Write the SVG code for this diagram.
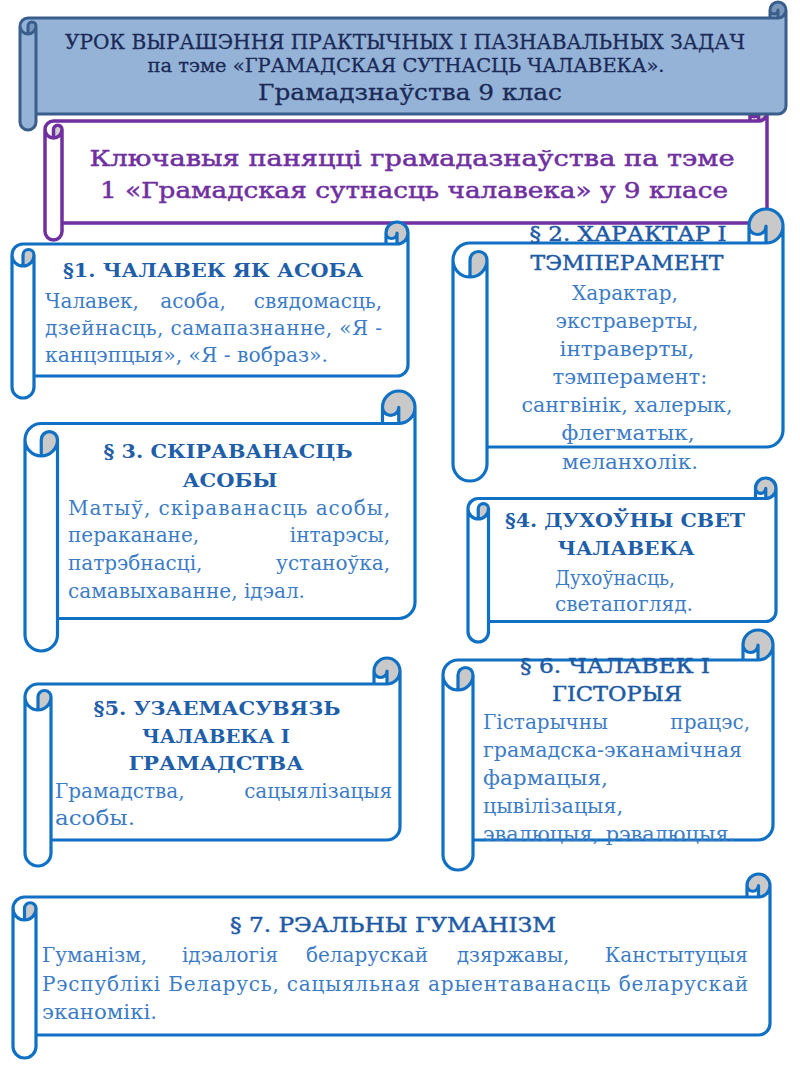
<svg xmlns="http://www.w3.org/2000/svg" width="800" height="1067" viewBox="0 0 800 1067">
<style>
.f{stroke:none}
.hd .f{fill:#95b3d7}
.hd .d{fill:#7b96bb}
.hd .s{fill:none;stroke:#3a5e8c;stroke-width:3;stroke-linejoin:round}
.pu .f{fill:#fff}
.pu .d{fill:#cfcfcf}
.pu .s{fill:none;stroke:#7030a0;stroke-width:3.5;stroke-linejoin:round}
.bl .f{fill:#fff}
.bl .d{fill:#c9c9c9}
.bl .s{fill:none;stroke:#1070c4;stroke-width:3.2;stroke-linejoin:round}
text{font-family:"DejaVu Serif","Liberation Serif",serif}
.ht{fill:#1b2a57;stroke:#1b2a57;stroke-width:0.3;text-anchor:middle}
.pt{fill:#7030a0;stroke:#7030a0;stroke-width:0.5;text-anchor:middle;font-size:23px}
.h{fill:#1f5ea8;font-weight:bold;font-size:19px;text-anchor:middle}
.hr{fill:#1d5aa4;stroke:#1d5aa4;stroke-width:0.45;font-size:20px;text-anchor:middle}
.b{fill:#3c7cc6;font-size:20px}
.c{text-anchor:middle}
.e{text-anchor:end}
</style>

<g id="topic" class="pu">
<g transform="translate(45,104)">
<path class="f" d="M0,25.5 A8.5,8.5 0 0 1 8.5,17 L705,17 L705,8.5 A8.5,8.5 0 0 1 722,8.5 L722,110.5 A8.5,8.5 0 0 1 713.5,119 L17,119 L17,127.5 A8.5,8.5 0 0 1 0,127.5 Z"/>
<path class="d" d="M8.5,34 A8.5,8.5 0 0 0 17,25.5 A4.25,4.25 0 0 0 8.5,25.5 Z M713.5,17 A8.5,8.5 0 1 0 705,8.5 A4.25,4.25 0 0 0 713.5,8.5 Z"/>
<path class="s" d="M0,25.5 A8.5,8.5 0 0 1 8.5,17 L705,17 L705,8.5 A8.5,8.5 0 0 1 722,8.5 L722,110.5 A8.5,8.5 0 0 1 713.5,119 L17,119 L17,127.5 A8.5,8.5 0 0 1 0,127.5 Z M705,17 L713.5,17 A8.5,8.5 0 0 0 722,8.5 M713.5,17 L713.5,8.5 A4.25,4.25 0 0 1 705,8.5 M8.5,34 L8.5,25.5 A4.25,4.25 0 0 1 17,25.5 A8.5,8.5 0 0 1 0,25.5 M17,25.5 L17,119"/>
</g>
<text class="pt" x="412" y="166" textLength="645" lengthAdjust="spacingAndGlyphs">Ключавыя паняцці грамадазнаўства па тэме</text>
<text class="pt" x="414" y="198" textLength="628" lengthAdjust="spacingAndGlyphs">1 «Грамадская сутнасць чалавека» у 9 класе</text>
</g>

<g id="header" class="hd">
<g transform="translate(20,2)">
<path class="f" d="M0,24 A8,8 0 0 1 8,16 L750,16 L750,8 A8,8 0 0 1 766,8 L766,104 A8,8 0 0 1 758,112 L16,112 L16,120 A8,8 0 0 1 0,120 Z"/>
<path class="d" d="M8,32 A8,8 0 0 0 16,24 A4,4 0 0 0 8,24 Z M758,16 A8,8 0 1 0 750,8 A4,4 0 0 0 758,8 Z"/>
<path class="s" d="M0,24 A8,8 0 0 1 8,16 L750,16 L750,8 A8,8 0 0 1 766,8 L766,104 A8,8 0 0 1 758,112 L16,112 L16,120 A8,8 0 0 1 0,120 Z M750,16 L758,16 A8,8 0 0 0 766,8 M758,16 L758,8 A4,4 0 0 1 750,8 M8,32 L8,24 A4,4 0 0 1 16,24 A8,8 0 0 1 0,24 M16,24 L16,112"/>
</g>
<text class="ht" x="405" y="49" font-size="20" textLength="680" lengthAdjust="spacingAndGlyphs">УРОК ВЫРАШЭННЯ ПРАКТЫЧНЫХ І ПАЗНАВАЛЬНЫХ ЗАДАЧ</text>
<text class="ht" x="406" y="72" font-size="18" textLength="517" lengthAdjust="spacingAndGlyphs">па тэме «ГРАМАДСКАЯ СУТНАСЦЬ ЧАЛАВЕКА».</text>
<text class="ht" x="410" y="100" font-size="23" textLength="304" lengthAdjust="spacingAndGlyphs">Грамадзнаўства 9 клас</text>
</g>

<g id="p1" class="bl">
<g transform="translate(12,222)">
<path class="f" d="M0,33 A11,11 0 0 1 11,22 L374,22 L374,11 A11,11 0 0 1 396,11 L396,143 A11,11 0 0 1 385,154 L22,154 L22,165 A11,11 0 0 1 0,165 Z"/>
<path class="d" d="M11,44 A11,11 0 0 0 22,33 A5.5,5.5 0 0 0 11,33 Z M385,22 A11,11 0 1 0 374,11 A5.5,5.5 0 0 0 385,11 Z"/>
<path class="s" d="M0,33 A11,11 0 0 1 11,22 L374,22 L374,11 A11,11 0 0 1 396,11 L396,143 A11,11 0 0 1 385,154 L22,154 L22,165 A11,11 0 0 1 0,165 Z M374,22 L385,22 A11,11 0 0 0 396,11 M385,22 L385,11 A5.5,5.5 0 0 1 374,11 M11,44 L11,33 A5.5,5.5 0 0 1 22,33 A11,11 0 0 1 0,33 M22,33 L22,154"/>
</g>
<text class="h" x="213" y="277" textLength="300" lengthAdjust="spacingAndGlyphs">§1. ЧАЛАВЕК ЯК АСОБА</text>
<text class="b" x="45" y="308">Чалавек,</text>
<text class="b c" x="193" y="308">асоба,</text>
<text class="b e" x="382" y="308">свядомасць,</text>
<text class="b" x="45" y="335" textLength="337" lengthAdjust="spacing">дзейнасць, самапазнанне, «Я -</text>
<text class="b" x="45" y="362" textLength="283" lengthAdjust="spacingAndGlyphs">канцэпцыя», «Я - вобраз».</text>
</g>

<g id="p2" class="bl">
<g transform="translate(453,209)">
<path class="f" d="M0,51 A17,17 0 0 1 17,34 L296,34 L296,17 A17,17 0 0 1 330,17 L330,221 A17,17 0 0 1 313,238 L34,238 L34,255 A17,17 0 0 1 0,255 Z"/>
<path class="d" d="M17,68 A17,17 0 0 0 34,51 A8.5,8.5 0 0 0 17,51 Z M313,34 A17,17 0 1 0 296,17 A8.5,8.5 0 0 0 313,17 Z"/>
<path class="s" d="M0,51 A17,17 0 0 1 17,34 L296,34 L296,17 A17,17 0 0 1 330,17 L330,221 A17,17 0 0 1 313,238 L34,238 L34,255 A17,17 0 0 1 0,255 Z M296,34 L313,34 A17,17 0 0 0 330,17 M313,34 L313,17 A8.5,8.5 0 0 1 296,17 M17,68 L17,51 A8.5,8.5 0 0 1 34,51 A17,17 0 0 1 0,51 M34,51 L34,238"/>
</g>
<text class="hr" x="628" y="241" textLength="197" lengthAdjust="spacingAndGlyphs">§ 2. ХАРАКТАР І</text>
<text class="hr" x="627" y="270" textLength="193" lengthAdjust="spacingAndGlyphs">ТЭМПЕРАМЕНТ</text>
<text class="b c" x="625" y="300" textLength="106" lengthAdjust="spacingAndGlyphs">Характар,</text>
<text class="b c" x="627" y="328" textLength="143" lengthAdjust="spacingAndGlyphs">экстраверты,</text>
<text class="b c" x="627" y="356" textLength="135" lengthAdjust="spacingAndGlyphs">інтраверты,</text>
<text class="b c" x="630" y="384" textLength="155" lengthAdjust="spacingAndGlyphs">тэмперамент:</text>
<text class="b c" x="627" y="412" textLength="211" lengthAdjust="spacingAndGlyphs">сангвінік, халерык,</text>
<text class="b c" x="628" y="440" textLength="133" lengthAdjust="spacingAndGlyphs">флегматык,</text>
<text class="b c" x="630" y="469" textLength="136" lengthAdjust="spacingAndGlyphs">меланхолік.</text>
</g>

<g id="p3" class="bl">
<g transform="translate(25,391)">
<path class="f" d="M0,48.75 A16.25,16.25 0 0 1 16.25,32.5 L357.5,32.5 L357.5,16.25 A16.25,16.25 0 0 1 390,16.25 L390,211.25 A16.25,16.25 0 0 1 373.75,227.5 L32.5,227.5 L32.5,243.75 A16.25,16.25 0 0 1 0,243.75 Z"/>
<path class="d" d="M16.25,65 A16.25,16.25 0 0 0 32.5,48.75 A8.125,8.125 0 0 0 16.25,48.75 Z M373.75,32.5 A16.25,16.25 0 1 0 357.5,16.25 A8.125,8.125 0 0 0 373.75,16.25 Z"/>
<path class="s" d="M0,48.75 A16.25,16.25 0 0 1 16.25,32.5 L357.5,32.5 L357.5,16.25 A16.25,16.25 0 0 1 390,16.25 L390,211.25 A16.25,16.25 0 0 1 373.75,227.5 L32.5,227.5 L32.5,243.75 A16.25,16.25 0 0 1 0,243.75 Z M357.5,32.5 L373.75,32.5 A16.25,16.25 0 0 0 390,16.25 M373.75,32.5 L373.75,16.25 A8.125,8.125 0 0 1 357.5,16.25 M16.25,65 L16.25,48.75 A8.125,8.125 0 0 1 32.5,48.75 A16.25,16.25 0 0 1 0,48.75 M32.5,48.75 L32.5,227.5"/>
</g>
<text class="h" x="228" y="458" textLength="249" lengthAdjust="spacingAndGlyphs">§ 3. СКІРАВАНАСЦЬ</text>
<text class="h" x="230" y="487" textLength="95" lengthAdjust="spacingAndGlyphs">АСОБЫ</text>
<text class="b" x="68" y="515" textLength="322" lengthAdjust="spacing">Матыў, скіраванасць асобы,</text>
<text class="b" x="68" y="542">пераканане,</text>
<text class="b e" x="390" y="542">інтарэсы,</text>
<text class="b" x="68" y="570">патрэбнасці,</text>
<text class="b e" x="390" y="570">устаноўка,</text>
<text class="b" x="68" y="598" textLength="237" lengthAdjust="spacingAndGlyphs">самавыхаванне, ідэал.</text>
</g>

<g id="p4" class="bl">
<g transform="translate(468,478)">
<path class="f" d="M0,30.75 A10.25,10.25 0 0 1 10.25,20.5 L287.5,20.5 L287.5,10.25 A10.25,10.25 0 0 1 308,10.25 L308,133.25 A10.25,10.25 0 0 1 297.75,143.5 L20.5,143.5 L20.5,153.75 A10.25,10.25 0 0 1 0,153.75 Z"/>
<path class="d" d="M10.25,41 A10.25,10.25 0 0 0 20.5,30.75 A5.125,5.125 0 0 0 10.25,30.75 Z M297.75,20.5 A10.25,10.25 0 1 0 287.5,10.25 A5.125,5.125 0 0 0 297.75,10.25 Z"/>
<path class="s" d="M0,30.75 A10.25,10.25 0 0 1 10.25,20.5 L287.5,20.5 L287.5,10.25 A10.25,10.25 0 0 1 308,10.25 L308,133.25 A10.25,10.25 0 0 1 297.75,143.5 L20.5,143.5 L20.5,153.75 A10.25,10.25 0 0 1 0,153.75 Z M287.5,20.5 L297.75,20.5 A10.25,10.25 0 0 0 308,10.25 M297.75,20.5 L297.75,10.25 A5.125,5.125 0 0 1 287.5,10.25 M10.25,41 L10.25,30.75 A5.125,5.125 0 0 1 20.5,30.75 A10.25,10.25 0 0 1 0,30.75 M20.5,30.75 L20.5,143.5"/>
</g>
<text class="h" x="625" y="527" textLength="240" lengthAdjust="spacingAndGlyphs">§4. ДУХОЎНЫ СВЕТ</text>
<text class="h" x="626" y="555" textLength="137" lengthAdjust="spacingAndGlyphs">ЧАЛАВЕКА</text>
<text class="b c" x="615" y="585" textLength="120" lengthAdjust="spacingAndGlyphs">Духоўнасць,</text>
<text class="b c" x="624" y="611" textLength="138" lengthAdjust="spacingAndGlyphs">светапогляд.</text>
</g>

<g id="p5" class="bl">
<g transform="translate(25,658)">
<path class="f" d="M0,39 A13,13 0 0 1 13,26 L349,26 L349,13 A13,13 0 0 1 375,13 L375,169 A13,13 0 0 1 362,182 L26,182 L26,195 A13,13 0 0 1 0,195 Z"/>
<path class="d" d="M13,52 A13,13 0 0 0 26,39 A6.5,6.5 0 0 0 13,39 Z M362,26 A13,13 0 1 0 349,13 A6.5,6.5 0 0 0 362,13 Z"/>
<path class="s" d="M0,39 A13,13 0 0 1 13,26 L349,26 L349,13 A13,13 0 0 1 375,13 L375,169 A13,13 0 0 1 362,182 L26,182 L26,195 A13,13 0 0 1 0,195 Z M349,26 L362,26 A13,13 0 0 0 375,13 M362,26 L362,13 A6.5,6.5 0 0 1 349,13 M13,52 L13,39 A6.5,6.5 0 0 1 26,39 A13,13 0 0 1 0,39 M26,39 L26,182"/>
</g>
<text class="h" x="217" y="715" textLength="247" lengthAdjust="spacingAndGlyphs">§5. УЗАЕМАСУВЯЗЬ</text>
<text class="h" x="216" y="743" textLength="148" lengthAdjust="spacingAndGlyphs">ЧАЛАВЕКА І</text>
<text class="h" x="216" y="770" textLength="175" lengthAdjust="spacingAndGlyphs">ГРАМАДСТВА</text>
<text class="b" x="55" y="798">Грамадства,</text>
<text class="b e" x="392" y="798">сацыялізацыя</text>
<text class="b" x="55" y="825" textLength="80" lengthAdjust="spacingAndGlyphs">асобы.</text>
</g>

<g id="p6" class="bl">
<g transform="translate(443,630)">
<path class="f" d="M0,45 A15,15 0 0 1 15,30 L300,30 L300,15 A15,15 0 0 1 330,15 L330,195 A15,15 0 0 1 315,210 L30,210 L30,225 A15,15 0 0 1 0,225 Z"/>
<path class="d" d="M15,60 A15,15 0 0 0 30,45 A7.5,7.5 0 0 0 15,45 Z M315,30 A15,15 0 1 0 300,15 A7.5,7.5 0 0 0 315,15 Z"/>
<path class="s" d="M0,45 A15,15 0 0 1 15,30 L300,30 L300,15 A15,15 0 0 1 330,15 L330,195 A15,15 0 0 1 315,210 L30,210 L30,225 A15,15 0 0 1 0,225 Z M300,30 L315,30 A15,15 0 0 0 330,15 M315,30 L315,15 A7.5,7.5 0 0 1 300,15 M15,60 L15,45 A7.5,7.5 0 0 1 30,45 A15,15 0 0 1 0,45 M30,45 L30,210"/>
</g>
<text class="hr" x="615" y="673" textLength="190" lengthAdjust="spacingAndGlyphs">§ 6. ЧАЛАВЕК І</text>
<text class="hr" x="617" y="701" textLength="130" lengthAdjust="spacingAndGlyphs">ГІСТОРЫЯ</text>
<text class="b" x="483" y="729">Гістарычны</text>
<text class="b e" x="750" y="729">працэс,</text>
<text class="b" x="483" y="757" textLength="259" lengthAdjust="spacingAndGlyphs">грамадска-эканамічная</text>
<text class="b" x="483" y="785" textLength="125" lengthAdjust="spacingAndGlyphs">фармацыя,</text>
<text class="b" x="483" y="813" textLength="140" lengthAdjust="spacingAndGlyphs">цывілізацыя,</text>
<text class="b" x="483" y="841" textLength="252" lengthAdjust="spacingAndGlyphs">эвалюцыя, рэвалюцыя.</text>
</g>

<g id="p7" class="bl">
<g transform="translate(13,874)">
<path class="f" d="M0,34.5 A11.5,11.5 0 0 1 11.5,23 L734,23 L734,11.5 A11.5,11.5 0 0 1 757,11.5 L757,149.5 A11.5,11.5 0 0 1 745.5,161 L23,161 L23,172.5 A11.5,11.5 0 0 1 0,172.5 Z"/>
<path class="d" d="M11.5,46 A11.5,11.5 0 0 0 23,34.5 A5.75,5.75 0 0 0 11.5,34.5 Z M745.5,23 A11.5,11.5 0 1 0 734,11.5 A5.75,5.75 0 0 0 745.5,11.5 Z"/>
<path class="s" d="M0,34.5 A11.5,11.5 0 0 1 11.5,23 L734,23 L734,11.5 A11.5,11.5 0 0 1 757,11.5 L757,149.5 A11.5,11.5 0 0 1 745.5,161 L23,161 L23,172.5 A11.5,11.5 0 0 1 0,172.5 Z M734,23 L745.5,23 A11.5,11.5 0 0 0 757,11.5 M745.5,23 L745.5,11.5 A5.75,5.75 0 0 1 734,11.5 M11.5,46 L11.5,34.5 A5.75,5.75 0 0 1 23,34.5 A11.5,11.5 0 0 1 0,34.5 M23,34.5 L23,161"/>
</g>
<text class="hr" x="393" y="932" textLength="326" lengthAdjust="spacingAndGlyphs">§ 7. РЭАЛЬНЫ ГУМАНІЗМ</text>
<text class="b" x="42" y="962">Гуманізм,</text>
<text class="b c" x="230" y="962">ідэалогія</text>
<text class="b c" x="367" y="962">беларускай</text>
<text class="b c" x="513" y="962">дзяржавы,</text>
<text class="b e" x="748" y="962">Канстытуцыя</text>
<text class="b" x="42" y="991" textLength="706" lengthAdjust="spacing">Рэспублікі Беларусь, сацыяльная арыентаванасць беларускай</text>
<text class="b" x="42" y="1019" textLength="115" lengthAdjust="spacingAndGlyphs">эканомікі.</text>
</g>
</svg>
